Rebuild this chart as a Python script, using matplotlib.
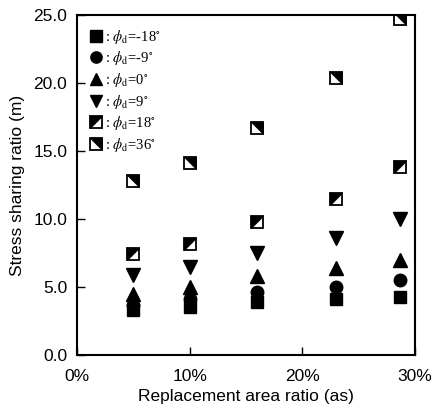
import matplotlib
matplotlib.use("Agg")
import matplotlib.pyplot as plt
from matplotlib.path import Path
from matplotlib.ticker import FuncFormatter, MultipleLocator
from matplotlib.lines import Line2D
from matplotlib.legend_handler import HandlerTuple

# Data
area_ratio = [5, 10, 16, 23, 28.7]  # %
m_neg18 = [3.3, 3.5, 3.9, 4.1, 4.3]
m_neg9 = [3.7, 4.1, 4.6, 5.0, 5.5]
m_0 = [4.5, 5.0, 5.8, 6.4, 7.0]
m_9 = [5.9, 6.5, 7.5, 8.6, 10.0]
m_18 = [7.4, 8.2, 9.8, 11.5, 13.8]
m_36 = [12.8, 14.1, 16.7, 20.4, 24.7]
labels = ["-18", "-9", "0", "9", "18", "36"]

plt.rcParams['mathtext.fontset'] = 'stix'
plt.rcParams['font.family'] = ['Liberation Sans', 'DejaVu Sans']

fig = plt.figure(figsize=(4.32, 4.09), dpi=100)
ax = fig.add_axes([0.178, 0.132, 0.783, 0.831])

ms = 9
tri_ul = Path([(-1, -1), (-1, 1), (1, 1), (-1, -1)], closed=True)  # black upper-left
tri_ur = Path([(-1, 1), (1, 1), (1, -1), (-1, 1)], closed=True)    # black upper-right

def lab(v):
    return r": $\phi_{\mathrm{d}}$=" + v + r"$^{\circ}$"

h = []
h.append(ax.plot(area_ratio, m_neg18, ls='none', marker='s', ms=ms, color='black')[0])
h.append(ax.plot(area_ratio, m_neg9, ls='none', marker='o', ms=ms, color='black')[0])
h.append(ax.plot(area_ratio, m_0, ls='none', marker='^', ms=ms + 0.5, color='black')[0])
h.append(ax.plot(area_ratio, m_9, ls='none', marker='v', ms=ms + 0.5, color='black')[0])

ax.plot(area_ratio, m_18, ls='none', marker='s', ms=ms, mfc='white', mec='black', mew=1.3)
ax.plot(area_ratio, m_18, ls='none', marker=tri_ul, ms=ms, mfc='black', mec='black', mew=0.5)
ax.plot(area_ratio, m_36, ls='none', marker='s', ms=ms, mfc='white', mec='black', mew=1.3)
ax.plot(area_ratio, m_36, ls='none', marker=tri_ur, ms=ms, mfc='black', mec='black', mew=0.5)

hb18 = (Line2D([], [], ls='none', marker='s', ms=ms, mfc='white', mec='black', mew=1.3),
        Line2D([], [], ls='none', marker=tri_ul, ms=ms, mfc='black', mec='black', mew=0.5))
hb36 = (Line2D([], [], ls='none', marker='s', ms=ms, mfc='white', mec='black', mew=1.3),
        Line2D([], [], ls='none', marker=tri_ur, ms=ms, mfc='black', mec='black', mew=0.5))
handles = h + [hb18, hb36]

leg = ax.legend(handles, [lab(v) for v in labels], loc='upper left',
                bbox_to_anchor=(0.0, 0.997), frameon=False, handlelength=1.0,
                handletextpad=0.15, labelspacing=0.25, borderaxespad=0.4,
                prop={'family': 'Liberation Serif', 'size': 10.5},
                markerscale=0.9,
                handler_map={tuple: HandlerTuple(ndivide=1, pad=0)})

ax.set_xlim(0, 30)
ax.set_ylim(0, 25)
ax.xaxis.set_major_locator(MultipleLocator(10))
ax.yaxis.set_major_locator(MultipleLocator(5))
ax.xaxis.set_major_formatter(FuncFormatter(lambda v, p: f"{v:.0f}%"))
ax.yaxis.set_major_formatter(FuncFormatter(lambda v, p: f"{v:.1f}"))
ax.tick_params(direction='in', length=6, width=1, labelsize=12.5, colors='black')
ax.tick_params(axis='x', pad=10)
ax.tick_params(axis='y', pad=7)
for s in ax.spines.values():
    s.set_linewidth(1.5)
ax.set_xlabel("Replacement area ratio (as)", fontsize=12.5, labelpad=4)
ax.set_ylabel("Stress sharing ratio (m)", fontsize=12.5, labelpad=6)

fig.savefig("out.png", dpi=100)
